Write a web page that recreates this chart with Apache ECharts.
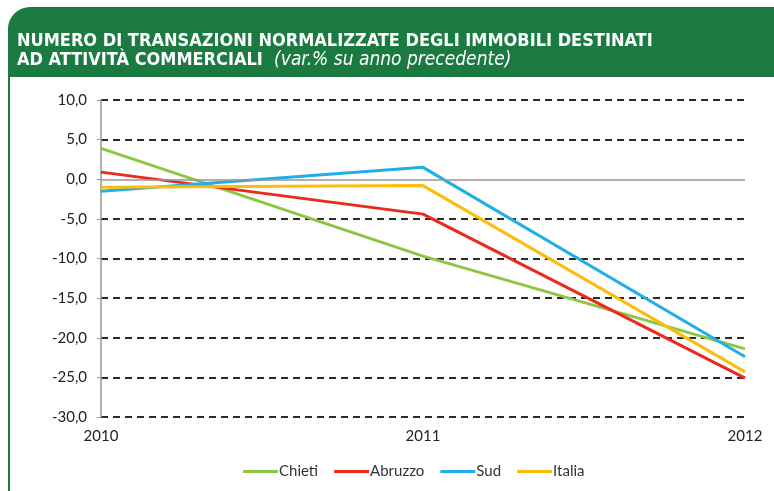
<!DOCTYPE html>
<html>
<head>
<meta charset="utf-8">
<script src="https://cdn.jsdelivr.net/npm/echarts@6/dist/echarts.min.js"></script>
<style>
  html, body { margin: 0; padding: 0; background: #fff; }
  #chart { width: 774px; height: 491px; }
</style>
</head>
<body>
<div id="chart"></div>
<script>
var years = ['2010', '2011', '2012']
var chieti = [3.9, -9.7, -21.4]
var abruzzo = [0.9, -4.4, -25.1]
var sud = [-1.5, 1.5, -22.4]
var italia = [-1.0, -0.8, -24.3]
var yMin = -30
var yMax = 10
var yStep = 5

var myChart = echarts.init(document.getElementById('chart'))

// linee tratteggiate per ogni tick, tranne lo zero (linea grigia continua)
var splitColors = []
for (var v = yMin; v <= yMax; v += yStep) {
  splitColors.push(v === 0 ? 'rgba(0,0,0,0)' : '#2b2b2b')
}

function serie (name, data, color) {
  return {
    name: name,
    type: 'line',
    data: data,
    symbol: 'none',
    lineStyle: { color: color, width: 3 },
    itemStyle: { color: color }
  }
}

var series = [
  serie('Chieti', chieti, '#8dc641'),
  serie('Abruzzo', abruzzo, '#ea2a1d'),
  serie('Sud', sud, '#20aee6'),
  serie('Italia', italia, '#fbbd0b')
]
series[0].markLine = {
  silent: true,
  symbol: 'none',
  label: { show: false },
  lineStyle: { color: '#9a9494', type: 'solid', width: 1.5 },
  data: [{ yAxis: 0 }]
}

var titleFont = '"Liberation Sans Narrow", "DejaVu Sans Condensed", sans-serif'

var option = {
  backgroundColor: '#fff',
  animation: false,
  graphic: [
    {
      type: 'rect',
      shape: { x: 8, y: 7, width: 790, height: 70, r: [22, 22, 0, 0] },
      style: { fill: '#1a7a41' }
    },
    {
      type: 'line',
      shape: { x1: 9, y1: 77, x2: 9, y2: 491 },
      style: { stroke: '#1a7a41', lineWidth: 2 }
    }
  ],
  title: {
    left: 12,
    top: 27,
    text: 'NUMERO DI TRANSAZIONI NORMALIZZATE DEGLI IMMOBILI DESTINATI\n{b|AD ATTIVITÀ COMMERCIALI}  {i|(var.% su anno precedente)}',
    textStyle: {
      color: '#fff',
      fontFamily: titleFont,
      fontWeight: 'bold',
      fontSize: 18,
      lineHeight: 19,
      rich: {
        b: {
          color: '#fff',
          fontFamily: titleFont,
          fontWeight: 'bold',
          fontSize: 18,
          lineHeight: 19
        },
        i: {
          color: '#fff',
          fontFamily: titleFont,
          fontStyle: 'italic',
          fontWeight: 'normal',
          fontSize: 19,
          lineHeight: 19
        }
      }
    }
  },
  legend: {
    left: 238,
    top: 459,
    icon: 'rect',
    itemWidth: 35,
    itemHeight: 3,
    itemGap: 16,
    textStyle: { color: '#333', fontSize: 15, fontFamily: 'Lato, sans-serif', padding: [0, 0, 0, -4] },
    data: ['Chieti', 'Abruzzo', 'Sud', 'Italia']
  },
  grid: {
    left: 101,
    right: 29,
    top: 100,
    bottom: 74
  },
  xAxis: {
    type: 'category',
    data: years,
    boundaryGap: false,
    axisLine: { show: false },
    axisTick: { show: false },
    axisLabel: {
      color: '#222',
      fontSize: 15,
      fontFamily: 'Lato, sans-serif',
      margin: 12
    }
  },
  yAxis: {
    type: 'value',
    min: yMin,
    max: yMax,
    interval: yStep,
    axisLine: { show: true, lineStyle: { color: '#9a9494', width: 1.5 } },
    axisTick: { show: true, length: 4, lineStyle: { color: '#9a9494' } },
    axisLabel: {
      color: '#222',
      fontSize: 15,
      fontFamily: 'Lato, sans-serif',
      margin: 14,
      formatter: function (v) { return v.toFixed(1).replace('.', ',') }
    },
    splitLine: {
      show: true,
      lineStyle: { color: splitColors, type: [7, 5], width: 2 }
    }
  },
  series: series
}

myChart.setOption(option)
</script>
</body>
</html>
